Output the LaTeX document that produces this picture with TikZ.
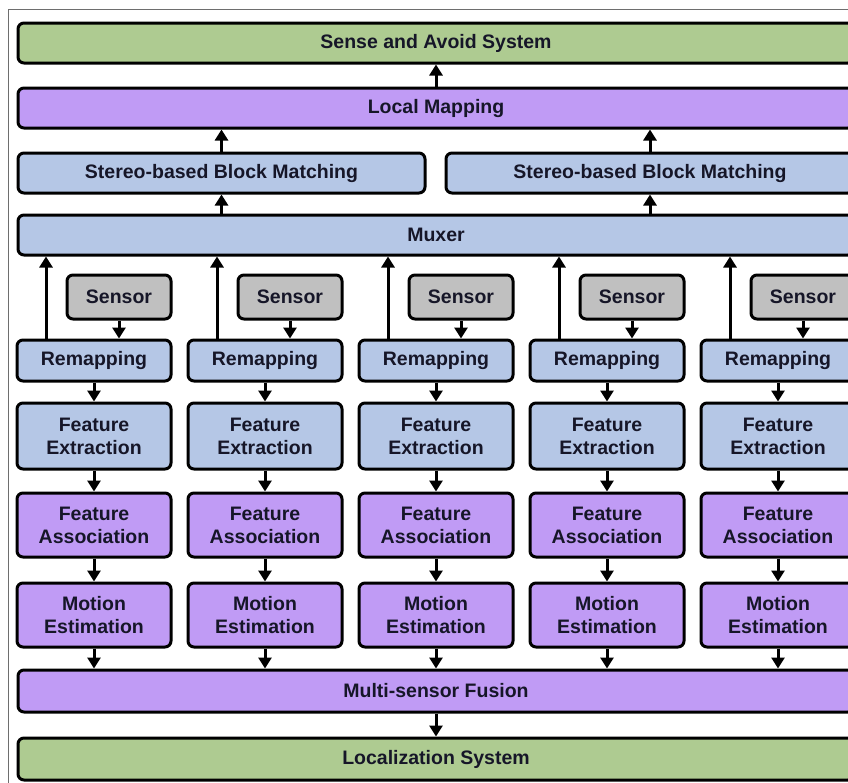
\documentclass[tikz,border=0pt]{standalone}
\usepackage{fontspec}
\setmainfont{Liberation Sans}
\usetikzlibrary{arrows.meta}
\definecolor{gboxc}{RGB}{174,203,145}
\definecolor{pboxc}{RGB}{192,155,245}
\definecolor{bboxc}{RGB}{181,199,230}
\definecolor{sboxc}{RGB}{192,192,192}
\definecolor{txtc}{RGB}{22,22,40}
\definecolor{framec}{RGB}{110,110,110}
\tikzset{
  box/.style={draw=black, line width=3pt, rounded corners=6pt, align=center,
    inner sep=0pt, text=txtc,
    font=\fontsize{19.5}{23}\selectfont\bfseries},
  gbox/.style={box, fill=gboxc},
  pbox/.style={box, fill=pboxc},
  bbox/.style={box, fill=bboxc},
  sbox/.style={box, fill=sboxc, minimum width=104pt, minimum height=44pt},
  colbox/.style={minimum width=154pt},
  arr/.style={line width=3pt, -{Triangle[width=13pt,length=11pt]}},
}
\begin{document}
\begin{tikzpicture}[x=1pt,y=-1pt]
\useasboundingbox (0,0) rectangle (848,782);
\clip (0,0) rectangle (848,782);
\draw[framec, line width=1pt] (8,800) -- (8,9) -- (870,9);
% wide boxes
\node[gbox, minimum width=836pt, minimum height=40pt] (sense) at (436,43) {Sense and Avoid System};
\node[pbox, minimum width=836pt, minimum height=40pt] (lm) at (436,108) {Local Mapping};
\node[bbox, minimum width=407pt, minimum height=40pt] (stL) at (221.5,173) {Stereo-based Block Matching};
\node[bbox, minimum width=408pt, minimum height=40pt] (stR) at (650,173) {Stereo-based Block Matching};
\node[bbox, minimum width=836pt, minimum height=40pt] (mux) at (436,235) {Muxer};
\node[pbox, minimum width=836pt, minimum height=42pt] (msf) at (436,691) {Multi-sensor Fusion};
\node[gbox, minimum width=836pt, minimum height=42pt] (loc) at (436,759) {Localization System};
% columns
\foreach \i/\cx in {1/94,2/265,3/436,4/607,5/778}{
  \node[sbox] (s\i) at (\cx+25,297) {Sensor};
  \node[bbox, colbox, minimum height=41pt] (r\i) at (\cx,360.5) {Remapping};
  \node[bbox, colbox, minimum height=66pt] (fe\i) at (\cx,436) {Feature\\Extraction};
  \node[pbox, colbox, minimum height=64pt] (fa\i) at (\cx,525) {Feature\\Association};
  \node[pbox, colbox, minimum height=64pt] (me\i) at (\cx,615) {Motion\\Estimation};
  \draw[arr] (s\i.south) -- (s\i.south |- r\i.north);
  \draw[arr] ([xshift=-48pt]r\i.north) -- ([xshift=-48pt]r\i.north |- mux.south);
  \draw[arr] (r\i.south) -- (fe\i.north);
  \draw[arr] (fe\i.south) -- (fa\i.north);
  \draw[arr] (fa\i.south) -- (me\i.north);
  \draw[arr] (me\i.south) -- (me\i.south |- msf.north);
}
% top arrows
\draw[arr] (stL.south |- mux.north) -- (stL.south);
\draw[arr] (stR.south |- mux.north) -- (stR.south);
\draw[arr] (stL.north) -- (stL.north |- lm.south);
\draw[arr] (stR.north) -- (stR.north |- lm.south);
\draw[arr] (lm.north) -- (sense.south);
\draw[arr] (msf.south) -- (loc.north);
\end{tikzpicture}
\end{document}
